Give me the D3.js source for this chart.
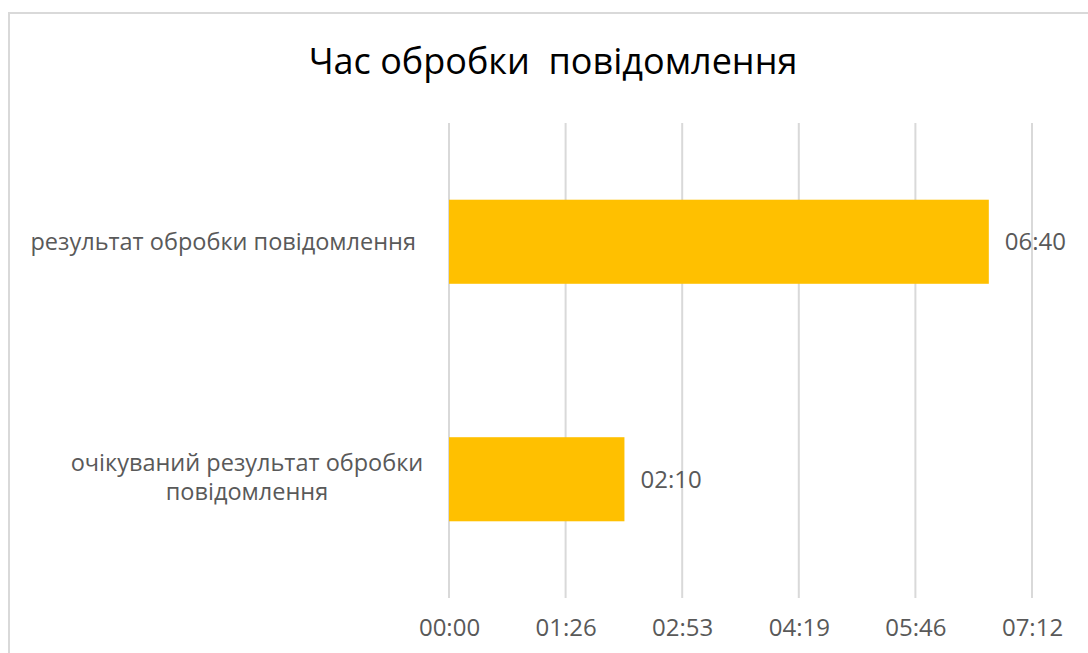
<!DOCTYPE html>
<html>
<head>
<meta charset="utf-8">
<script src="https://d3js.org/d3.v7.min.js"></script>
<style>
  body { margin: 0; background: #fff; font-family: "Open Sans", sans-serif; }
  .grid line { stroke: #d9d9d9; stroke-width: 2; }
  .axis path, .axis line { display: none; }
  .axis text { fill: #595959; font-size: 24px; font-family: "Open Sans", sans-serif; }
</style>
</head>
<body>
<div id="chart"></div>
<script>
// data (seconds)
const categories = ["результат обробки повідомлення", "очікуваний результат обробки повідомлення"];
const catLines = [["результат обробки повідомлення"], ["очікуваний результат обробки", "повідомлення"]];
const values = [400, 130];
const tickSeconds = [0, 86.4, 172.8, 259.2, 345.6, 432];
const tickLabels = ["00:00", "01:26", "02:53", "04:19", "05:46", "07:12"];

const W = 1088, H = 653;
const plot = {left: 449, right: 1032, top: 123, bottom: 598};

const svg = d3.select("#chart").append("svg")
  .attr("width", W).attr("height", H);

// chart border
svg.append("rect")
  .attr("x", 9).attr("y", 13)
  .attr("width", W + 10).attr("height", H + 10)
  .attr("fill", "#fff").attr("stroke", "#d9d9d9").attr("stroke-width", 2);

svg.append("text")
  .attr("x", 553).attr("y", 74)
  .attr("text-anchor", "middle")
  .attr("fill", "#000")
  .style("font-size", "36px")
  .style("white-space", "pre")
  .text("Час обробки  повідомлення");

const x = d3.scaleLinear().domain([0, 432]).range([plot.left, plot.right]);
const y = d3.scaleBand().domain(categories).range([plot.top, plot.bottom])
  .paddingInner(0.646).paddingOuter(0.323);

// gridlines
svg.append("g").attr("class", "grid")
  .selectAll("line").data(tickSeconds).join("line")
  .attr("x1", d => x(d)).attr("x2", d => x(d))
  .attr("y1", plot.top).attr("y2", plot.bottom);

// x axis labels
svg.append("g").attr("class", "axis")
  .attr("transform", `translate(0,${plot.bottom + 18})`)
  .call(d3.axisBottom(x).tickValues(tickSeconds).tickSize(0)
    .tickFormat((d, i) => tickLabels[i]));

// bars
svg.selectAll(".bar").data(values).join("rect")
  .attr("class", "bar")
  .attr("x", x(0))
  .attr("y", (d, i) => y(categories[i]))
  .attr("width", d => x(d) - x(0))
  .attr("height", y.bandwidth())
  .attr("fill", "#ffc000");

// value labels
const mmss = s => {
  const t = Math.round(s);
  return String(Math.floor(t / 60)).padStart(2, "0") + ":" + String(t % 60).padStart(2, "0");
};
svg.selectAll(".val").data(values).join("text")
  .attr("class", "val")
  .attr("x", d => x(d) + 16)
  .attr("y", (d, i) => y(categories[i]) + y.bandwidth() / 2)
  .attr("dy", "0.35em")
  .attr("fill", "#595959")
  .style("font-size", "24px")
  .text(d => mmss(d));

// category labels
const cat = svg.selectAll(".cat").data(catLines).join("text")
  .attr("class", "cat")
  .attr("fill", "#595959")
  .style("font-size", "23.5px")
  .attr("text-anchor", (d, i) => i === 0 ? "end" : "middle")
  .attr("x", (d, i) => i === 0 ? 416 : 247)
  .attr("y", (d, i) => y(categories[i]) + y.bandwidth() / 2 - (i === 0 ? 0 : 2));
cat.each(function(lines) {
  const n = lines.length;
  d3.select(this).selectAll("tspan").data(lines).join("tspan")
    .attr("x", d3.select(this).attr("x"))
    .attr("dy", (d, j) => j === 0 ? ((0.35 - (n - 1) * 0.62) + "em") : "1.24em")
    .text(d => d);
});
</script>
</body>
</html>
